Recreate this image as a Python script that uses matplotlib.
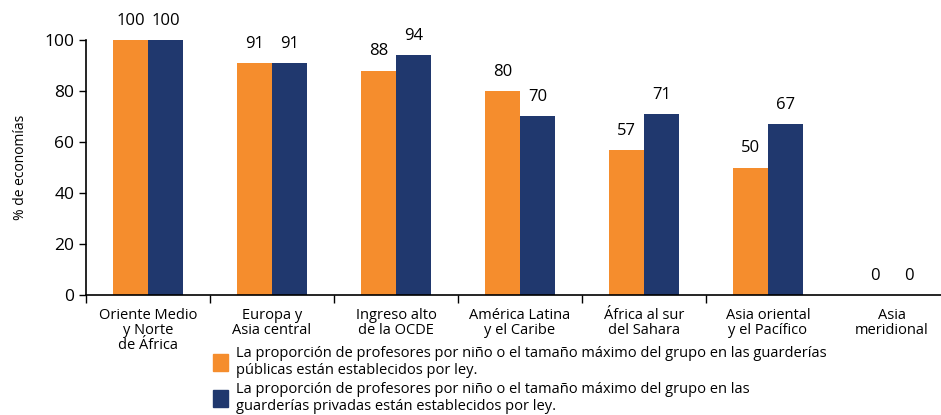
import numpy as np
import matplotlib
matplotlib.use("Agg")
import matplotlib.pyplot as plt
from matplotlib.patches import Patch

plt.rcParams["font.family"] = ["Open Sans", "DejaVu Sans"]

# datos
regiones = ["Oriente Medio\ny Norte\nde África", "Europa y\nAsia central",
            "Ingreso alto\nde la OCDE", "América Latina\ny el Caribe",
            "África al sur\ndel Sahara", "Asia oriental\ny el Pacífico",
            "Asia\nmeridional"]
publicas = [100, 91, 88, 80, 57, 50, 0]
privadas = [100, 91, 94, 70, 71, 67, 0]

etiqueta_pub = ("La proporción de profesores por niño o el tamaño máximo del grupo en las guarderías\n"
                "públicas están establecidos por ley.")
etiqueta_priv = ("La proporción de profesores por niño o el tamaño máximo del grupo en las\n"
                 "guarderías privadas están establecidos por ley.")

NARANJA = "#F58D2D"
AZUL = "#20386E"


def main():
    fig = plt.figure(figsize=(9.41, 4.15), dpi=100)
    ax = fig.add_axes([86 / 941, 120 / 415, 1 - 86 / 941, 255 / 415])

    x = np.arange(len(regiones))
    w = 0.28
    b1 = ax.bar(x - w / 2, publicas, w, color=NARANJA)
    b2 = ax.bar(x + w / 2, privadas, w, color=AZUL)

    for barras in (b1, b2):
        for b in barras:
            h = b.get_height()
            ax.annotate(f"{h:g}", (b.get_x() + b.get_width() / 2, h),
                        xytext=(0, 8), textcoords="offset points",
                        ha="center", va="bottom", fontsize=12, clip_on=False)

    ax.set_xlim(-0.5, (941 - 86) / 124 - 0.5)
    ax.set_ylim(0, 100)
    ax.set_yticks(range(0, 101, 20))
    ax.tick_params(axis="y", labelsize=12.5, length=5, width=1)

    # etiquetas centradas, marcas en los límites entre categorías
    ax.set_xticks(x)
    ax.set_xticklabels(regiones, fontsize=10.5, linespacing=1.0)
    ax.tick_params(axis="x", which="major", length=0, pad=9)
    ax.set_xticks(np.arange(len(regiones) - 1) + 0.5 - 1, minor=True)
    ax.tick_params(axis="x", which="minor", length=6, width=1, direction="out")

    for s in ("top", "right"):
        ax.spines[s].set_visible(False)
    ax.spines["left"].set_linewidth(1.2)
    ax.spines["bottom"].set_linewidth(1.2)

    ax.set_ylabel("% de economías", fontsize=10, labelpad=12)

    handles = [Patch(color=NARANJA), Patch(color=AZUL)]
    fig.legend(handles, [etiqueta_pub, etiqueta_priv],
               loc="upper left", bbox_to_anchor=(213 / 941, 1 - 346 / 415),
               frameon=False, fontsize=10.5, handlelength=1.05, handleheight=1.4,
               handletextpad=0.55, labelspacing=0.25, borderaxespad=0,
               borderpad=0)

    fig.savefig("out.png", dpi=100)


if __name__ == "__main__":
    main()
